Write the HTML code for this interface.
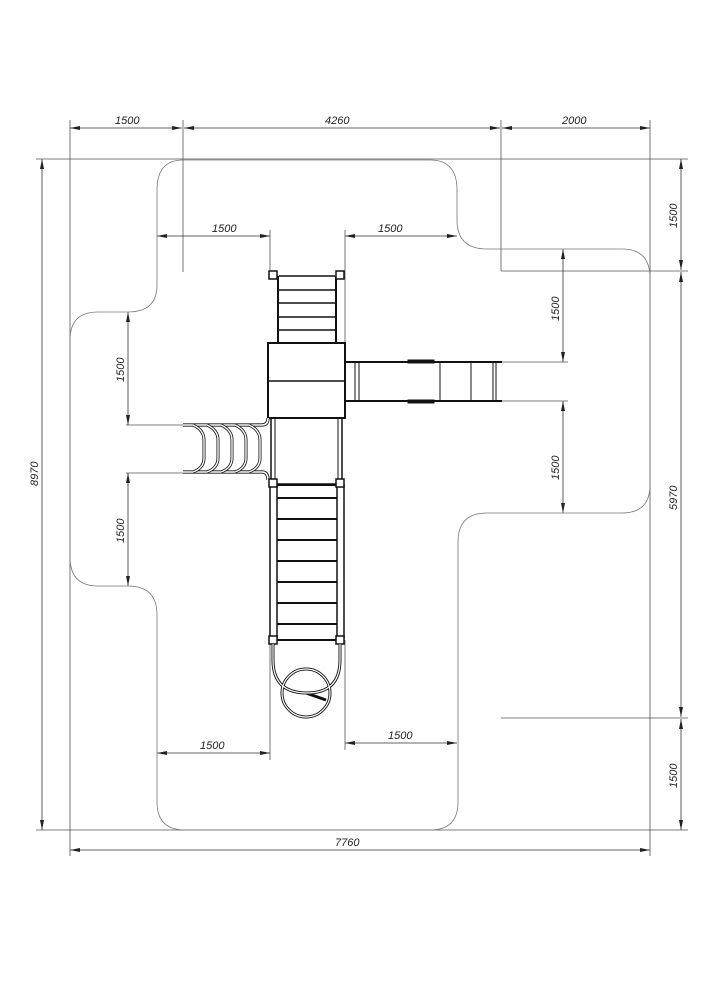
<!DOCTYPE html>
<html><head><meta charset="utf-8"><style>
html,body{margin:0;padding:0;background:#fff}
svg{display:block}
text{font-family:"Liberation Sans",sans-serif;font-style:italic;font-size:11px;fill:#222}
</style></head><body>
<svg width="707" height="1000" viewBox="0 0 707 1000" xmlns="http://www.w3.org/2000/svg">
<defs>
<marker id="a" viewBox="0 0 10 4" refX="10" refY="2" markerWidth="10" markerHeight="4" orient="auto-start-reverse" markerUnits="userSpaceOnUse"><path d="M0,0 L10,2 L0,4 z" fill="#222"/></marker>
</defs>
<g stroke="#555" stroke-width="0.8" fill="none">
<!-- extension lines -->
<line x1="70" y1="120" x2="70" y2="856"/>
<line x1="183" y1="120" x2="183" y2="272"/>
<line x1="501" y1="120" x2="501" y2="271"/>
<line x1="650" y1="120" x2="650" y2="856"/>
<line x1="36" y1="159" x2="688" y2="159"/>
<line x1="36" y1="830" x2="688" y2="830"/>
<line x1="501" y1="271" x2="688" y2="271"/>
<line x1="501" y1="718" x2="688" y2="718"/>
<line x1="270" y1="230" x2="270" y2="270"/>
<line x1="345" y1="230" x2="345" y2="345"/>
<line x1="270" y1="640" x2="270" y2="760"/>
<line x1="345" y1="640" x2="345" y2="750"/>
<line x1="126" y1="425" x2="185" y2="425"/>
<line x1="126" y1="473" x2="185" y2="473"/>
<line x1="500" y1="362" x2="568" y2="362"/>
<line x1="500" y1="401" x2="568" y2="401"/>
</g>
<g stroke="#333" stroke-width="0.8" fill="none" marker-start="url(#a)" marker-end="url(#a)">
<line x1="70" y1="128" x2="182" y2="128"/>
<line x1="184" y1="128" x2="500" y2="128"/>
<line x1="502" y1="128" x2="650" y2="128"/>
<line x1="42" y1="159" x2="42" y2="830"/>
<line x1="681" y1="159" x2="681" y2="270"/>
<line x1="681" y1="272" x2="681" y2="717"/>
<line x1="681" y1="719" x2="681" y2="830"/>
<line x1="70" y1="850" x2="650" y2="850"/>
<line x1="157" y1="236" x2="270" y2="236"/>
<line x1="345" y1="236" x2="457" y2="236"/>
<line x1="157" y1="753" x2="270" y2="753"/>
<line x1="345" y1="743" x2="457" y2="743"/>
<line x1="128" y1="312" x2="128" y2="425"/>
<line x1="128" y1="473" x2="128" y2="586"/>
<line x1="563" y1="249" x2="563" y2="362"/>
<line x1="563" y1="401" x2="563" y2="513"/>
</g>
<!-- safety zone -->
<path d="M183,160 L430,160 Q457,160 457,190 L457,220 Q457,249 487,249 L622,249 Q650,249 650,278 L650,485 Q650,513 622,513 L487,513 Q458,513 458,542 L458,802 Q458,830 430,830 L185,830 Q157,830 157,802 L157,615 Q157,586 128,586 L98,586 Q70,586 70,557 L70,340 Q70,312 98,312 L128,312 Q157,312 157,285 L157,190 Q157,160 183,160 Z" fill="none" stroke="#777" stroke-width="0.8"/>
<!-- labels -->
<text x="115" y="124">1500</text>
<text x="325" y="124">4260</text>
<text x="562" y="124">2000</text>
<text x="335" y="846">7760</text>
<text x="212" y="232">1500</text>
<text x="378" y="232">1500</text>
<text x="200" y="749">1500</text>
<text x="388" y="739">1500</text>
<text transform="translate(38,486) rotate(-90)">8970</text>
<text transform="translate(677,228) rotate(-90)">1500</text>
<text transform="translate(677,510) rotate(-90)">5970</text>
<text transform="translate(677,788) rotate(-90)">1500</text>
<text transform="translate(124,382) rotate(-90)">1500</text>
<text transform="translate(124,543) rotate(-90)">1500</text>
<text transform="translate(559,321) rotate(-90)">1500</text>
<text transform="translate(559,480) rotate(-90)">1500</text>
<!-- structure -->
<g stroke="#111" fill="none">
<!-- top ladder -->
<line x1="278" y1="276" x2="278" y2="343" stroke-width="2"/>
<line x1="336" y1="276" x2="336" y2="343" stroke-width="2"/>
<g stroke-width="1.5"><line x1="279" y1="276" x2="335" y2="276"/><line x1="279" y1="290" x2="335" y2="290"/><line x1="279" y1="303" x2="335" y2="303"/><line x1="279" y1="317" x2="335" y2="317"/><line x1="279" y1="330" x2="335" y2="330"/></g>
<rect x="269" y="271" width="8" height="8" stroke-width="1.5" fill="#fff"/>
<rect x="336" y="271" width="8" height="8" stroke-width="1.5" fill="#fff"/>
<!-- platform -->
<rect x="268" y="343" width="77" height="75" stroke-width="2" fill="#fff"/>
<line x1="268" y1="381" x2="345" y2="381" stroke-width="1.5"/>
<!-- deck -->
<rect x="271" y="418" width="71" height="66" stroke-width="1.5"/>
<line x1="275" y1="418" x2="275" y2="484" stroke-width="1"/>
<line x1="338" y1="418" x2="338" y2="484" stroke-width="1"/>
<!-- slide -->
<line x1="345" y1="362" x2="502" y2="362" stroke-width="2"/>
<line x1="345" y1="401" x2="502" y2="401" stroke-width="2"/>
<line x1="355" y1="362" x2="355" y2="401"/>
<line x1="359" y1="362" x2="359" y2="401"/>
<line x1="440" y1="362" x2="440" y2="401"/>
<line x1="471" y1="362" x2="471" y2="401"/>
<line x1="493" y1="362" x2="493" y2="401"/>
<line x1="496" y1="362" x2="496" y2="401"/>
<rect x="408" y="360" width="26" height="3" fill="#111"/>
<rect x="408" y="400" width="26" height="3" fill="#111"/>
<!-- arch climber -->
<g stroke-width="3.2" stroke="#111"><path d="M183,425 L262,425 Q268,425 268,418"/><path d="M183,472 L262,472 Q268,472 268,480"/></g>
<g stroke-width="1.6" stroke="#fff"><path d="M183,425 L262,425 Q268,425 268,418"/><path d="M183,472 L262,472 Q268,472 268,480"/></g>
<g stroke-width="3" stroke="#111">
<path d="M193,425 Q204,430 204,440 L204,458 Q204,468 193,472"/>
<path d="M207,425 Q218,430 218,440 L218,458 Q218,468 207,472"/>
<path d="M221,425 Q232,430 232,440 L232,458 Q232,468 221,472"/>
<path d="M235,425 Q246,430 246,440 L246,458 Q246,468 235,472"/>
<path d="M249,425 Q260,430 260,440 L260,458 Q260,468 249,472"/>
</g>
<g stroke-width="1.4" stroke="#fff">
<path d="M193,425 Q204,430 204,440 L204,458 Q204,468 193,472"/>
<path d="M207,425 Q218,430 218,440 L218,458 Q218,468 207,472"/>
<path d="M221,425 Q232,430 232,440 L232,458 Q232,468 221,472"/>
<path d="M235,425 Q246,430 246,440 L246,458 Q246,468 235,472"/>
<path d="M249,425 Q260,430 260,440 L260,458 Q260,468 249,472"/>
</g>
<!-- bottom ladder -->
<rect x="270" y="485" width="7" height="153" stroke-width="1.5"/>
<rect x="337" y="485" width="7" height="153" stroke-width="1.5"/>
<g stroke-width="2"><line x1="277" y1="485" x2="337" y2="485"/><line x1="277" y1="498" x2="337" y2="498"/><line x1="277" y1="519" x2="337" y2="519"/><line x1="277" y1="540" x2="337" y2="540"/><line x1="277" y1="561" x2="337" y2="561"/><line x1="277" y1="582" x2="337" y2="582"/><line x1="277" y1="603" x2="337" y2="603"/><line x1="277" y1="624" x2="337" y2="624"/><line x1="277" y1="640" x2="337" y2="640"/></g>
<rect x="269" y="479" width="8" height="8" stroke-width="1.5" fill="#fff"/>
<rect x="336" y="479" width="8" height="8" stroke-width="1.5" fill="#fff"/>
<rect x="269" y="636" width="8" height="8" stroke-width="1.5" fill="#fff"/>
<rect x="336" y="636" width="8" height="8" stroke-width="1.5" fill="#fff"/>
<!-- loop -->
<g stroke-width="3"><path d="M273,644 L273,660 Q273,693 307,693 Q340,693 340,660 L340,644"/><circle cx="306" cy="693" r="24"/><path d="M306,693 L326,700"/></g>
<g stroke-width="1.2" stroke="#fff"><path d="M273,644 L273,660 Q273,693 307,693 Q340,693 340,660 L340,644"/><circle cx="306" cy="693" r="24"/></g>
</g>
</svg>
</body></html>
